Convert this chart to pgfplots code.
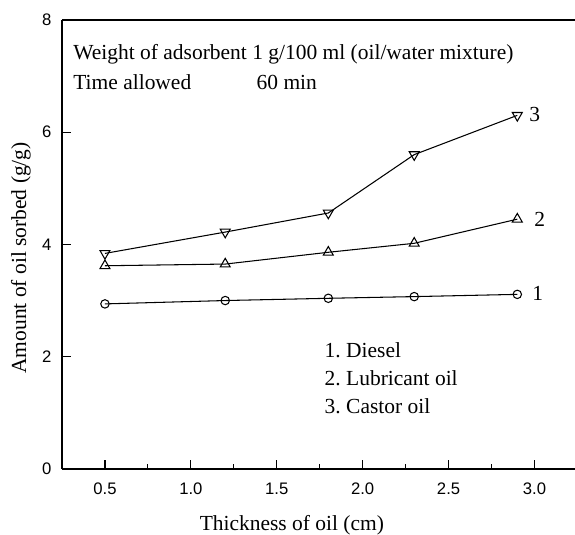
\documentclass[border=0pt]{standalone}
\usepackage{fontspec}
\setmainfont{Liberation Serif}
\newfontfamily\arialf{Liberation Sans}
\usepackage{pgfplots}
\pgfplotsset{compat=1.18}
\frenchspacing
\begin{document}
\begin{tikzpicture}
\begin{axis}[
  scale only axis,
  width=268.9pt, height=234.2pt,
  xmin=0.25, xmax=3.25, ymin=0, ymax=8,
  axis lines*=left,
  axis line style={line width=0.8pt},
  xtick={0.5,1.0,1.5,2.0,2.5,3.0},
  ytick={0,2,4,6,8},
  minor xtick={0.75,1.25,1.75,2.25,2.75,3.25},
  tick align=inside,
  major tick length=4.7pt,
  minor tick length=2.3pt,
  every tick/.style={black, line width=0.6pt},
  /pgf/number format/assume math mode=true,
  /pgf/number format/fixed,
  /pgf/number format/fixed zerofill,
  /pgf/number format/precision=1,
  xticklabel style={font=\arialf\fontsize{8.7}{10}\selectfont, yshift=-3.7pt},
  yticklabel style={font=\arialf\fontsize{8.7}{10}\selectfont, xshift=-2pt, /pgf/number format/precision=0},
  xlabel={Thickness of oil (cm)},
  ylabel={Amount of oil sorbed (g/g)},
  every axis x label/.style={at={(axis description cs:0.446,0)}, anchor=north, inner sep=0pt, yshift=-24pt, font=\fontsize{11.2}{13}\selectfont},
  every axis y label/.style={at={(axis description cs:-0.08,0.47)}, anchor=center, rotate=90, inner sep=0pt, font=\fontsize{11.2}{13}\selectfont},
  clip=false,
]
\draw[line width=0.8pt] (rel axis cs:0,1) -- (rel axis cs:1,1);
% 1. Diesel
\addplot[black, line width=0.55pt, mark=o, mark size=2.2pt, mark options={fill=white}]
coordinates {(0.5,2.94)(1.2,3.00)(1.8,3.04)(2.3,3.07)(2.9,3.11)};
% 2. Lubricant oil
\addplot[black, line width=0.55pt, mark=triangle, mark size=3pt, mark options={fill=white}]
coordinates {(0.5,3.62)(1.2,3.65)(1.8,3.86)(2.3,4.02)(2.9,4.45)};
% 3. Castor oil
\addplot[black, line width=0.55pt, mark=triangle, mark size=3pt, mark options={fill=white, rotate=180}]
coordinates {(0.5,3.84)(1.2,4.22)(1.8,4.56)(2.3,5.60)(2.9,6.30)};
\begin{scope}[every node/.style={font=\fontsize{11.2}{13}\selectfont, inner sep=0pt}]
\node[anchor=base west] at (axis cs:0.314,7.29) {Weight of adsorbent 1 g/100 ml (oil/water mixture)};
\node[anchor=base west] at (axis cs:0.314,6.76) {Time allowed};
\node[anchor=base west] at (axis cs:1.381,6.76) {60 min};
\node[anchor=base west] at (axis cs:1.777,1.99) {1.\ Diesel};
\node[anchor=base west] at (axis cs:1.777,1.48) {2.\ Lubricant oil};
\node[anchor=base west] at (axis cs:1.777,0.98) {3.\ Castor oil};
\node[anchor=west] at (axis cs:2.968,6.32) {3};
\node[anchor=west] at (axis cs:2.997,4.45) {2};
\node[anchor=west] at (axis cs:2.985,3.13) {1};
\end{scope}
\coordinate (bbA) at (rel axis cs:-0.1203,-0.147);
\coordinate (bbB) at (rel axis cs:0.9953,1.0445);
\end{axis}
\pgfresetboundingbox
\path[use as bounding box] (bbA) rectangle (bbB);
\end{tikzpicture}
\end{document}
